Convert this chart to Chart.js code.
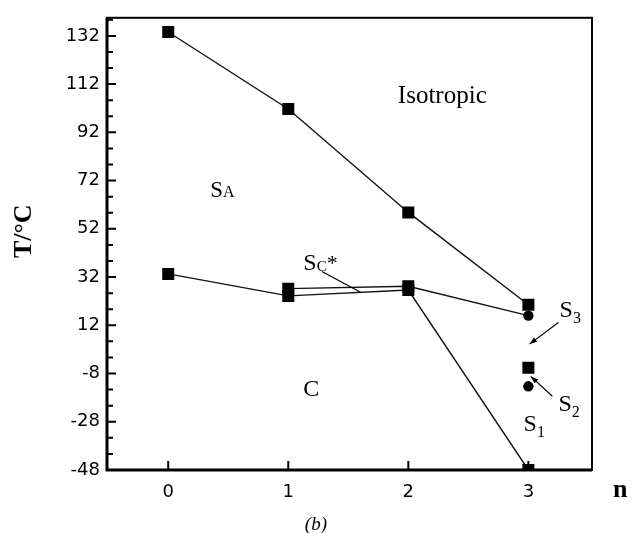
<!DOCTYPE html>
<html>
<head>
<meta charset="utf-8">
<script src="https://cdn.jsdelivr.net/npm/chart.js@4/dist/chart.umd.min.js"></script>
<style>
  html, body { margin: 0; padding: 0; background: #fff; }
  canvas { display: block; }
</style>
</head>
<body>
<canvas id="phase-chart" width="632" height="533"></canvas>
<script>
// transition temperatures (°C) against n
const nIso = [0, 1, 2, 3];
const tIso = [133.6, 101.7, 58.8, 20.5];

const nScTop = [1, 2, 3];
const tScTop = [27.2, 28.2, 16];
const styleScTop = ['rect', 'rect', 'circle'];

const nLower = [0, 1, 2, 3];
const tLower = [33.3, 24.2, 26.6, -48];

const nLoose = [3, 3];
const tLoose = [-5.6, -13.3];
const styleLoose = ['rect', 'circle'];

const yTicks = [-48, -28, -8, 12, 32, 52, 72, 92, 112, 132];
const xTicks = [0, 1, 2, 3];

const pts = (xs, ys) => xs.map((x, i) => ({ x: x, y: ys[i] }));
const radiusFor = s => (s === 'circle' ? 5.2 : 8.5);

function series(xs, ys, styles, showLine) {
  const st = styles || xs.map(() => 'rect');
  return {
    data: pts(xs, ys),
    showLine: showLine,
    borderColor: '#111',
    borderWidth: 1.4,
    backgroundColor: '#000',
    pointBackgroundColor: '#000',
    pointBorderWidth: 0,
    pointStyle: st,
    pointRadius: st.map(radiusFor),
    pointHoverRadius: st.map(radiusFor),
    tension: 0,
    // marks stop at the bottom frame line
    clip: { left: 12, top: 12, right: 12, bottom: 0 }
  };
}

// text with a smaller trailing part (subscripts / small capitals)
function drawSplit(ctx, x, y, parts) {
  let cx = x;
  parts.forEach(p => {
    ctx.font = p.font;
    ctx.fillText(p.text, cx, y + (p.dy || 0));
    cx += ctx.measureText(p.text).width + (p.gap || 0);
  });
}

function arrow(ctx, x1, y1, x2, y2, head) {
  ctx.beginPath();
  ctx.moveTo(x1, y1);
  ctx.lineTo(x2, y2);
  ctx.stroke();
  if (!head) return;
  const a = Math.atan2(y2 - y1, x2 - x1);
  ctx.beginPath();
  ctx.moveTo(x2, y2);
  ctx.lineTo(x2 - 8 * Math.cos(a - 0.35), y2 - 8 * Math.sin(a - 0.35));
  ctx.lineTo(x2 - 8 * Math.cos(a + 0.35), y2 - 8 * Math.sin(a + 0.35));
  ctx.closePath();
  ctx.fill();
}

const decorations = {
  id: 'decorations',
  afterDraw(chart) {
    const ctx = chart.ctx;
    const xs = chart.scales.x, ys = chart.scales.y;
    const area = chart.chartArea;
    const X = v => xs.getPixelForValue(v);
    const Y = v => ys.getPixelForValue(v);
    const serif = 'Liberation Serif, Times New Roman, serif';

    ctx.save();
    ctx.strokeStyle = '#000';
    ctx.fillStyle = '#000';

    // inward tick marks
    ctx.lineWidth = 2;
    ctx.beginPath();
    xTicks.forEach(v => {
      ctx.moveTo(X(v), area.bottom);
      ctx.lineTo(X(v), area.bottom - 9);
    });
    yTicks.forEach(v => {
      ctx.moveTo(area.left, Y(v));
      ctx.lineTo(area.left + 9, Y(v));
      [1, 2].forEach(k => {
        const m = v + k * 20 / 3;
        if (m < ys.max) {
          ctx.moveTo(area.left, Y(m));
          ctx.lineTo(area.left + 6, Y(m));
        }
      });
    });
    ctx.stroke();

    // frame
    ctx.lineWidth = 2;
    ctx.strokeRect(area.left, area.top, area.right - area.left, area.bottom - area.top);
    ctx.lineWidth = 3;
    ctx.beginPath();
    ctx.moveTo(area.left, area.top);
    ctx.lineTo(area.left, area.bottom);
    ctx.lineTo(area.right, area.bottom);
    ctx.stroke();

    // phase labels
    ctx.textBaseline = 'alphabetic';
    ctx.textAlign = 'center';
    ctx.font = '25px ' + serif;
    ctx.fillText('Isotropic', X(2.283), Y(104.2));
    ctx.textAlign = 'left';
    drawSplit(ctx, X(0.35), Y(65.1), [
      { text: 'S', font: '23px ' + serif },
      { text: 'A', font: '16px ' + serif }
    ]);
    drawSplit(ctx, X(1.125), Y(35), [
      { text: 'S', font: '24px ' + serif },
      { text: 'C', font: '15px ' + serif, dy: 1 },
      { text: '*', font: '22px ' + serif }
    ]);
    ctx.font = '24px ' + serif;
    ctx.fillText('C', X(1.125), Y(-17.4));
    drawSplit(ctx, X(3.26), Y(15.3), [
      { text: 'S', font: '24px ' + serif },
      { text: '3', font: '16px ' + serif, dy: 6 }
    ]);
    drawSplit(ctx, X(3.25), Y(-23.5), [
      { text: 'S', font: '24px ' + serif },
      { text: '2', font: '16px ' + serif, dy: 6 }
    ]);
    drawSplit(ctx, X(2.96), Y(-31.7), [
      { text: 'S', font: '24px ' + serif },
      { text: '1', font: '16px ' + serif, dy: 6 }
    ]);

    // pointers
    ctx.lineWidth = 1.2;
    arrow(ctx, X(1.28), Y(34.3), X(1.61), Y(25.5), false);
    arrow(ctx, X(3.25), Y(13.2), X(3.01), Y(4.2), true);
    arrow(ctx, X(3.2), Y(-17.4), X(3.02), Y(-9.2), true);

    // axis titles and panel tag
    ctx.font = 'bold 26px ' + serif;
    ctx.fillText('n', area.right + 21, area.bottom + 27);
    ctx.font = 'italic 19px ' + serif;
    ctx.textAlign = 'center';
    ctx.fillText('(b)', X(1.23), area.bottom + 60);
    ctx.translate(24, Y(51));
    ctx.rotate(-Math.PI / 2);
    ctx.textBaseline = 'middle';
    ctx.font = 'bold 26px ' + serif;
    ctx.fillText('T/\u00B0C', 0, 0);
    ctx.restore();
  }
};

new Chart(document.getElementById('phase-chart'), {
  type: 'scatter',
  data: {
    datasets: [
      series(nIso, tIso, null, true),
      series(nScTop, tScTop, styleScTop, true),
      series(nLower, tLower, null, true),
      series(nLoose, tLoose, styleLoose, false)
    ]
  },
  options: {
    responsive: false,
    devicePixelRatio: 1,
    animation: false,
    layout: { padding: { left: 0, top: 11, right: 40, bottom: 0 } },
    plugins: { legend: { display: false }, tooltip: { enabled: false } },
    scales: {
      x: {
        type: 'linear',
        min: -0.51,
        max: 3.53,
        afterBuildTicks: s => { s.ticks = xTicks.map(v => ({ value: v })); },
        afterFit: s => { s.height = 63; },
        grid: { display: false, drawTicks: false },
        border: { display: false },
        ticks: {
          padding: 12,
          color: '#000',
          font: { family: 'DejaVu Sans', size: 18 }
        }
      },
      y: {
        type: 'linear',
        min: -48,
        max: 139.5,
        afterBuildTicks: s => { s.ticks = yTicks.map(v => ({ value: v })); },
        afterFit: s => { s.width = 107; },
        grid: { display: false, drawTicks: false },
        border: { display: false },
        ticks: {
          padding: 7,
          color: '#000',
          font: { family: 'DejaVu Sans', size: 18 }
        }
      }
    }
  },
  plugins: [decorations]
});
</script>
</body>
</html>
